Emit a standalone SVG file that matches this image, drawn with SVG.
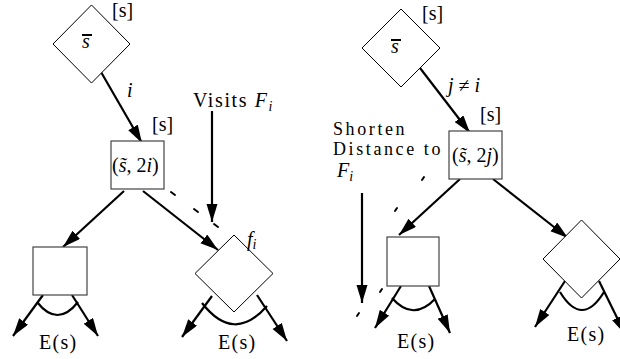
<svg xmlns="http://www.w3.org/2000/svg" width="620" height="359" viewBox="0 0 620 359">
<style>
text{font-family:'Liberation Serif','DejaVu Serif',serif;font-size:20px;fill:#000}
.it{font-style:italic}
.sub{font-size:14px;font-style:italic}
.lbl{font-size:18px;letter-spacing:2.6px}
.node{fill:#fff;stroke:#000;stroke-width:1}
.box{fill:#fff;stroke:#444;stroke-width:1.2}
.arr{stroke:#000;stroke-width:2.2;fill:none;marker-end:url(#ah)}
.arc{stroke:#000;stroke-width:2.2;fill:none}
.dash{stroke:#000;stroke-width:2;stroke-linecap:round}
.bar{stroke:#000;stroke-width:2}
</style>
<defs>
<marker id="ah" markerUnits="userSpaceOnUse" markerWidth="20" markerHeight="12" refX="18" refY="5.5" orient="auto">
<path d="M0,0 L18,5.5 L0,11 z" fill="#000"/>
</marker>
</defs>

<g id="connectors">
<line class="arr" x1="101" y1="72" x2="142" y2="143"/>
<line class="arr" x1="124" y1="191" x2="63" y2="247"/>
<line class="arr" x1="143" y1="191" x2="218" y2="250"/>
<line class="arr" x1="212" y1="111" x2="212" y2="222"/>
<line class="arr" x1="43" y1="295" x2="13" y2="336"/>
<line class="arr" x1="72" y1="295" x2="98" y2="336"/>
<path class="arc" d="M37,302 Q57.5,328 78,302"/>
<line class="arr" x1="212" y1="296" x2="182" y2="337"/>
<line class="arr" x1="257" y1="295" x2="287" y2="341"/>
<path class="arc" d="M202,303 Q234,344 267,306"/>
<line class="dash" x1="171" y1="192" x2="175" y2="195"/>
<line class="dash" x1="194" y1="209" x2="198" y2="212"/>
<line class="dash" x1="214" y1="224" x2="218" y2="227"/>

<line class="arr" x1="420" y1="68" x2="470" y2="133"/>
<line class="arr" x1="460" y1="179" x2="399" y2="235"/>
<line class="arr" x1="493" y1="179" x2="568" y2="238"/>
<line class="arr" x1="362" y1="193" x2="362" y2="303"/>
<line class="arr" x1="401" y1="286" x2="375" y2="328"/>
<line class="arr" x1="429" y1="286" x2="450" y2="333"/>
<path class="arc" d="M392,298 Q413,322 435,299"/>
<line class="arr" x1="565" y1="281" x2="535" y2="327"/>
<line class="arr" x1="599" y1="281" x2="625" y2="334"/>
<path class="arc" d="M560,292 Q582,328 604,292"/>
<line class="dash" x1="424" y1="177" x2="422" y2="180"/>
<line class="dash" x1="397" y1="208" x2="395" y2="211"/>
<line class="dash" x1="382" y1="289" x2="380" y2="292"/>
<line class="dash" x1="359" y1="313" x2="357" y2="316"/>
</g>

<g id="L-top">
<polygon class="node" points="91.5,5 130,44 91.5,83 53,44"/>
<text x="82" y="48" class="it">s</text>
<line class="bar" x1="82" y1="35" x2="92" y2="35"/>
<text x="112" y="17" font-size="19">[s]</text>
</g>
<text x="127" y="97" class="it">i</text>
<g id="L-mid">
<rect class="box" x="111" y="141" width="53" height="48"/>
<text x="152" y="131" font-size="19">[s]</text>
<text x="112" y="172">(<tspan class="it">s̃</tspan>, 2<tspan class="it">i</tspan>)</text>
</g>
<text x="193" y="107" letter-spacing="1.6">Visits <tspan class="it">F</tspan><tspan class="sub" dy="4">i</tspan></text>
<g id="L-left">
<rect class="box" x="33" y="247" width="54" height="48"/>
<text x="39" y="349" letter-spacing="1.3">E(s)</text>
</g>
<g id="L-right">
<polygon class="node" points="234,235 273,273.5 234,312 195,273.5"/>
<text x="247" y="246" class="it">f<tspan class="sub" dy="3">i</tspan></text>
<text x="218" y="349" letter-spacing="1.3">E(s)</text>
</g>

<g id="R-top">
<polygon class="node" points="401,9 440,48 401,87 362,48"/>
<text x="391" y="53" class="it">s</text>
<line class="bar" x1="391" y1="40" x2="401" y2="40"/>
<text x="422" y="20" font-size="19">[s]</text>
</g>
<text x="448" y="92"><tspan class="it">j</tspan> ≠ <tspan class="it">i</tspan></text>
<g id="R-mid">
<rect class="box" x="449" y="131" width="53" height="48"/>
<text x="480" y="121" font-size="19">[s]</text>
<text x="452" y="162">(<tspan class="it">s̃</tspan>, 2<tspan class="it">j</tspan>)</text>
</g>
<text x="333" y="135" class="lbl">Shorten</text>
<text x="333" y="155" class="lbl">Distance to</text>
<text x="337" y="177" class="it">F<tspan class="sub" dy="4">i</tspan></text>
<g id="R-left">
<rect class="box" x="387" y="237" width="52" height="49"/>
<text x="397" y="348" letter-spacing="1.3">E(s)</text>
</g>
<g id="R-right">
<polygon class="node" points="581.5,220 620,259 581.5,298 543,259"/>
<text x="567" y="341" letter-spacing="1.3">E(s)</text>
</g>
</svg>
